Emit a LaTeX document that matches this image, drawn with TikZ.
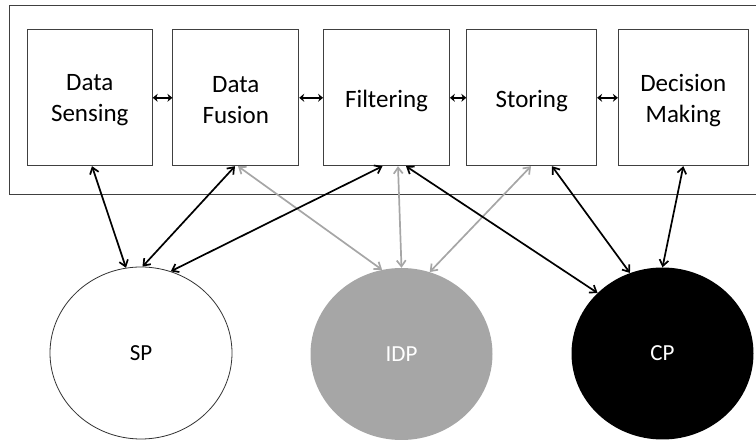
\documentclass[tikz,border=0pt]{standalone}
\usepackage{fontspec}
\setmainfont{Carlito}
\usetikzlibrary{arrows.meta,shapes.geometric}
\begin{document}
\begin{tikzpicture}[x=1pt,y=-1pt,
  stagebox/.style={draw=black!75,line width=0.8pt,minimum height=136pt,inner sep=0pt},
  stagetext/.style={align=center,inner sep=0pt,font=\fontsize{25}{31}\selectfont},
  pool/.style={ellipse,minimum width=182pt,minimum height=172pt,inner sep=0pt,font=\fontsize{23}{27}\selectfont},
  link/.style={line width=1.7pt,{Straight Barb[length=6pt,width=9pt]}-{Straight Barb[length=6pt,width=9pt]}},
  glink/.style={link,draw=gray!70},
  hop/.style={line width=2pt,{Stealth[length=5pt,width=8pt]}-{Stealth[length=5pt,width=8pt]}}
]
\useasboundingbox (0,0) rectangle (756,443);
% container
\draw[black!75,line width=0.8pt] (756,5.5) -- (9,5.5) -- (9,194) -- (756,194);
% stages
\node[stagebox,minimum width=125pt] (ds) at (89.8,97.8) {};
\node[stagebox,minimum width=126pt] (df) at (235.8,97.8) {};
\node[stagebox,minimum width=126pt] (fi) at (386.5,97.8) {};
\node[stagebox,minimum width=130pt] (st) at (531.7,97.8) {};
\node[stagebox,minimum width=130pt] (dm) at (683.3,97.8) {};
\node[stagetext] (dst) at ([yshift=-2.5pt]ds.center) {Data\\Sensing};
\node[stagetext] (dft) at ([yshift=-2.5pt]df.center) {Data\\Fusion};
\node[stagetext,anchor=base] (fit) at ([yshift=-10pt]fi.center) {Filtering};
\node[stagetext,anchor=base] (stt) at ([yshift=-10pt]st.center) {Storing};
\node[stagetext] (dmt) at ([yshift=-2.5pt]dm.center) {Decision\\Making};
% pools
\node[pool,draw=black!80,line width=0.8pt,fill=white] (sp) at (141,353) {SP};
\node[pool,fill=gray!70,text=white] (idp) at (401.5,354) {IDP};
\node[pool,fill=black,text=white] (cp) at (662.5,353.5) {CP};
% horizontal hops
\draw[hop] (ds.east) -- (df.west);
\draw[hop] (df.east) -- (fi.west);
\draw[hop] (fi.east) -- (st.west);
\draw[hop] (st.east) -- (dm.west);
% gray links
\draw[glink] ([xshift=2.2pt]df.south) -- (idp.103);
\draw[glink] ([xshift=11.5pt]fi.south) -- (idp.90);
\draw[glink] ([xshift=-0.7pt]st.south) -- (idp.71);
% black links
\draw[link] ([xshift=2.2pt]ds.south) -- (sp.100);
\draw[link] ([xshift=-0.8pt]df.south) -- (sp.89);
\draw[link] ([xshift=-4pt]fi.south) -- (sp.70);
\draw[link] ([xshift=19.5pt]fi.south) -- (cp.137.5);
\draw[link] ([xshift=20.3pt]st.south) -- (cp.112);
\draw[link] (dm.south) -- (cp.90);
\end{tikzpicture}
\end{document}
